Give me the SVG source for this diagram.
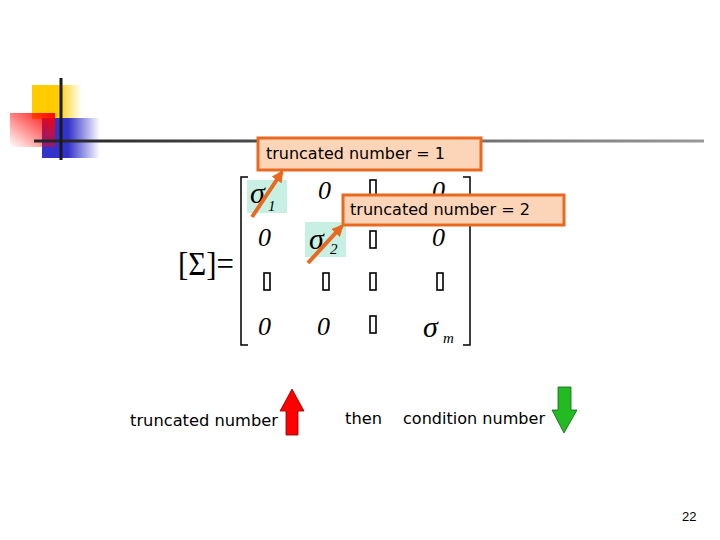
<svg xmlns="http://www.w3.org/2000/svg" width="720" height="540" viewBox="0 0 720 540">
<style>
.lbl{font-family:"DejaVu Sans","Liberation Sans",sans-serif;font-size:15px;fill:#000}
.m{font-family:"Liberation Serif",serif;font-style:italic;font-size:26px;fill:#000}
.sg{font-family:"Liberation Serif",serif;font-style:italic;font-size:30px;fill:#000}
.sub{font-family:"Liberation Serif",serif;font-style:italic;font-size:15px;fill:#000}
.box{fill:#fcd5b8;stroke:#e8691f;stroke-width:3}
.tofu{fill:none;stroke:#000;stroke-width:1.6}
.brk{fill:none;stroke:#000;stroke-width:1.5}
.hl{fill:#c8f0e2}
.conn{stroke:#e8691f;stroke-width:4;fill:none}
</style>
<defs>
<linearGradient id="gy" x1="0" x2="1"><stop offset="0.5" stop-color="#ffcc00"/><stop offset="1" stop-color="#ffcc00" stop-opacity="0"/></linearGradient>
<linearGradient id="gb" x1="0" x2="1"><stop offset="0.45" stop-color="#3333cc"/><stop offset="1" stop-color="#3333cc" stop-opacity="0"/></linearGradient>
<linearGradient id="gr" x1="1" y1="0" x2="0" y2="1"><stop offset="0" stop-color="#ff0000"/><stop offset="1" stop-color="#ff0000" stop-opacity="0"/></linearGradient>
<linearGradient id="gl" x1="0" x2="1"><stop offset="0" stop-color="#222"/><stop offset="1" stop-color="#999"/></linearGradient>
<marker id="ah" viewBox="0 0 10 10" refX="8" refY="5" markerWidth="3" markerHeight="3" orient="auto"><path d="M0,0 L10,5 L0,10 z" fill="#e8691f"/></marker>
</defs>
<g id="decor">
<rect x="32" y="85" width="50" height="34" fill="url(#gy)"/>
<rect x="42" y="118" width="58" height="40" fill="url(#gb)"/>
<rect x="10" y="113" width="45" height="34" fill="url(#gr)"/>
<rect x="34" y="139.5" width="670" height="3" fill="url(#gl)"/>
<rect x="59.5" y="78" width="3" height="82" fill="#1a1a1a"/>
</g>
<g id="matrix">
<text x="178" y="275" font-family="Liberation Serif,serif" font-size="34" textLength="56" lengthAdjust="spacingAndGlyphs">[Σ]=</text>
<path class="brk" d="M248,177 H241 V345 H248"/>
<path class="brk" d="M463,177 H470 V345 H463"/>
<rect class="hl" x="247" y="180" width="40" height="33"/>
<text class="sg" x="250" y="203">σ</text><text class="sub" x="268" y="211">1</text>
<text class="m" x="318" y="199">0</text>
<rect class="tofu" x="370" y="180" width="6" height="17"/>
<text class="m" x="432" y="199">0</text>
<text class="m" x="258" y="246">0</text>
<rect class="hl" x="305" y="222" width="41" height="35"/>
<text class="sg" x="309" y="249">σ</text><text class="sub" x="330" y="254">2</text>
<rect class="tofu" x="370" y="231" width="6" height="17"/>
<text class="m" x="432" y="246">0</text>
<rect class="tofu" x="264" y="273" width="6" height="17"/>
<rect class="tofu" x="323" y="273" width="6" height="17"/>
<rect class="tofu" x="370" y="273" width="6" height="17"/>
<rect class="tofu" x="437" y="273" width="6" height="17"/>
<text class="m" x="258" y="335">0</text>
<text class="m" x="317" y="335">0</text>
<rect class="tofu" x="370" y="316" width="6" height="17"/>
<text class="sg" x="423" y="337">σ</text><text class="sub" x="443" y="343">m</text>
</g>
<g id="connectors">
<line class="conn" x1="252" y1="217" x2="282" y2="172" marker-end="url(#ah)"/>
<line class="conn" x1="308" y1="263" x2="342" y2="226" marker-end="url(#ah)"/>
</g>
<g id="box1">
<rect class="box" x="258" y="138" width="223" height="32"/>
<text class="lbl" x="266" y="159" textLength="179" lengthAdjust="spacingAndGlyphs">truncated number = 1</text>
</g>
<g id="box2">
<rect class="box" x="343" y="195" width="221" height="30"/>
<text class="lbl" x="350" y="215" textLength="180" lengthAdjust="spacingAndGlyphs">truncated number = 2</text>
</g>
<g id="bottom">
<text class="lbl" x="130" y="426" textLength="148" lengthAdjust="spacingAndGlyphs">truncated number</text>
<path d="M280,411 L292,389 L304,411 L298,411 L298,435 L286,435 L286,411 Z" fill="#ff0000" stroke="#800" stroke-width="0.8"/>
<text class="lbl" x="345" y="424" textLength="37" lengthAdjust="spacingAndGlyphs">then</text>
<text class="lbl" x="403" y="424" textLength="142" lengthAdjust="spacingAndGlyphs">condition number</text>
<path d="M558,387 L571,387 L571,410 L577,410 L564,433 L552,410 L558,410 Z" fill="#22bb22" stroke="#186018" stroke-width="0.8"/>
</g>
<text x="682" y="521" font-family="Liberation Sans,sans-serif" font-size="13">22</text>
</svg>
